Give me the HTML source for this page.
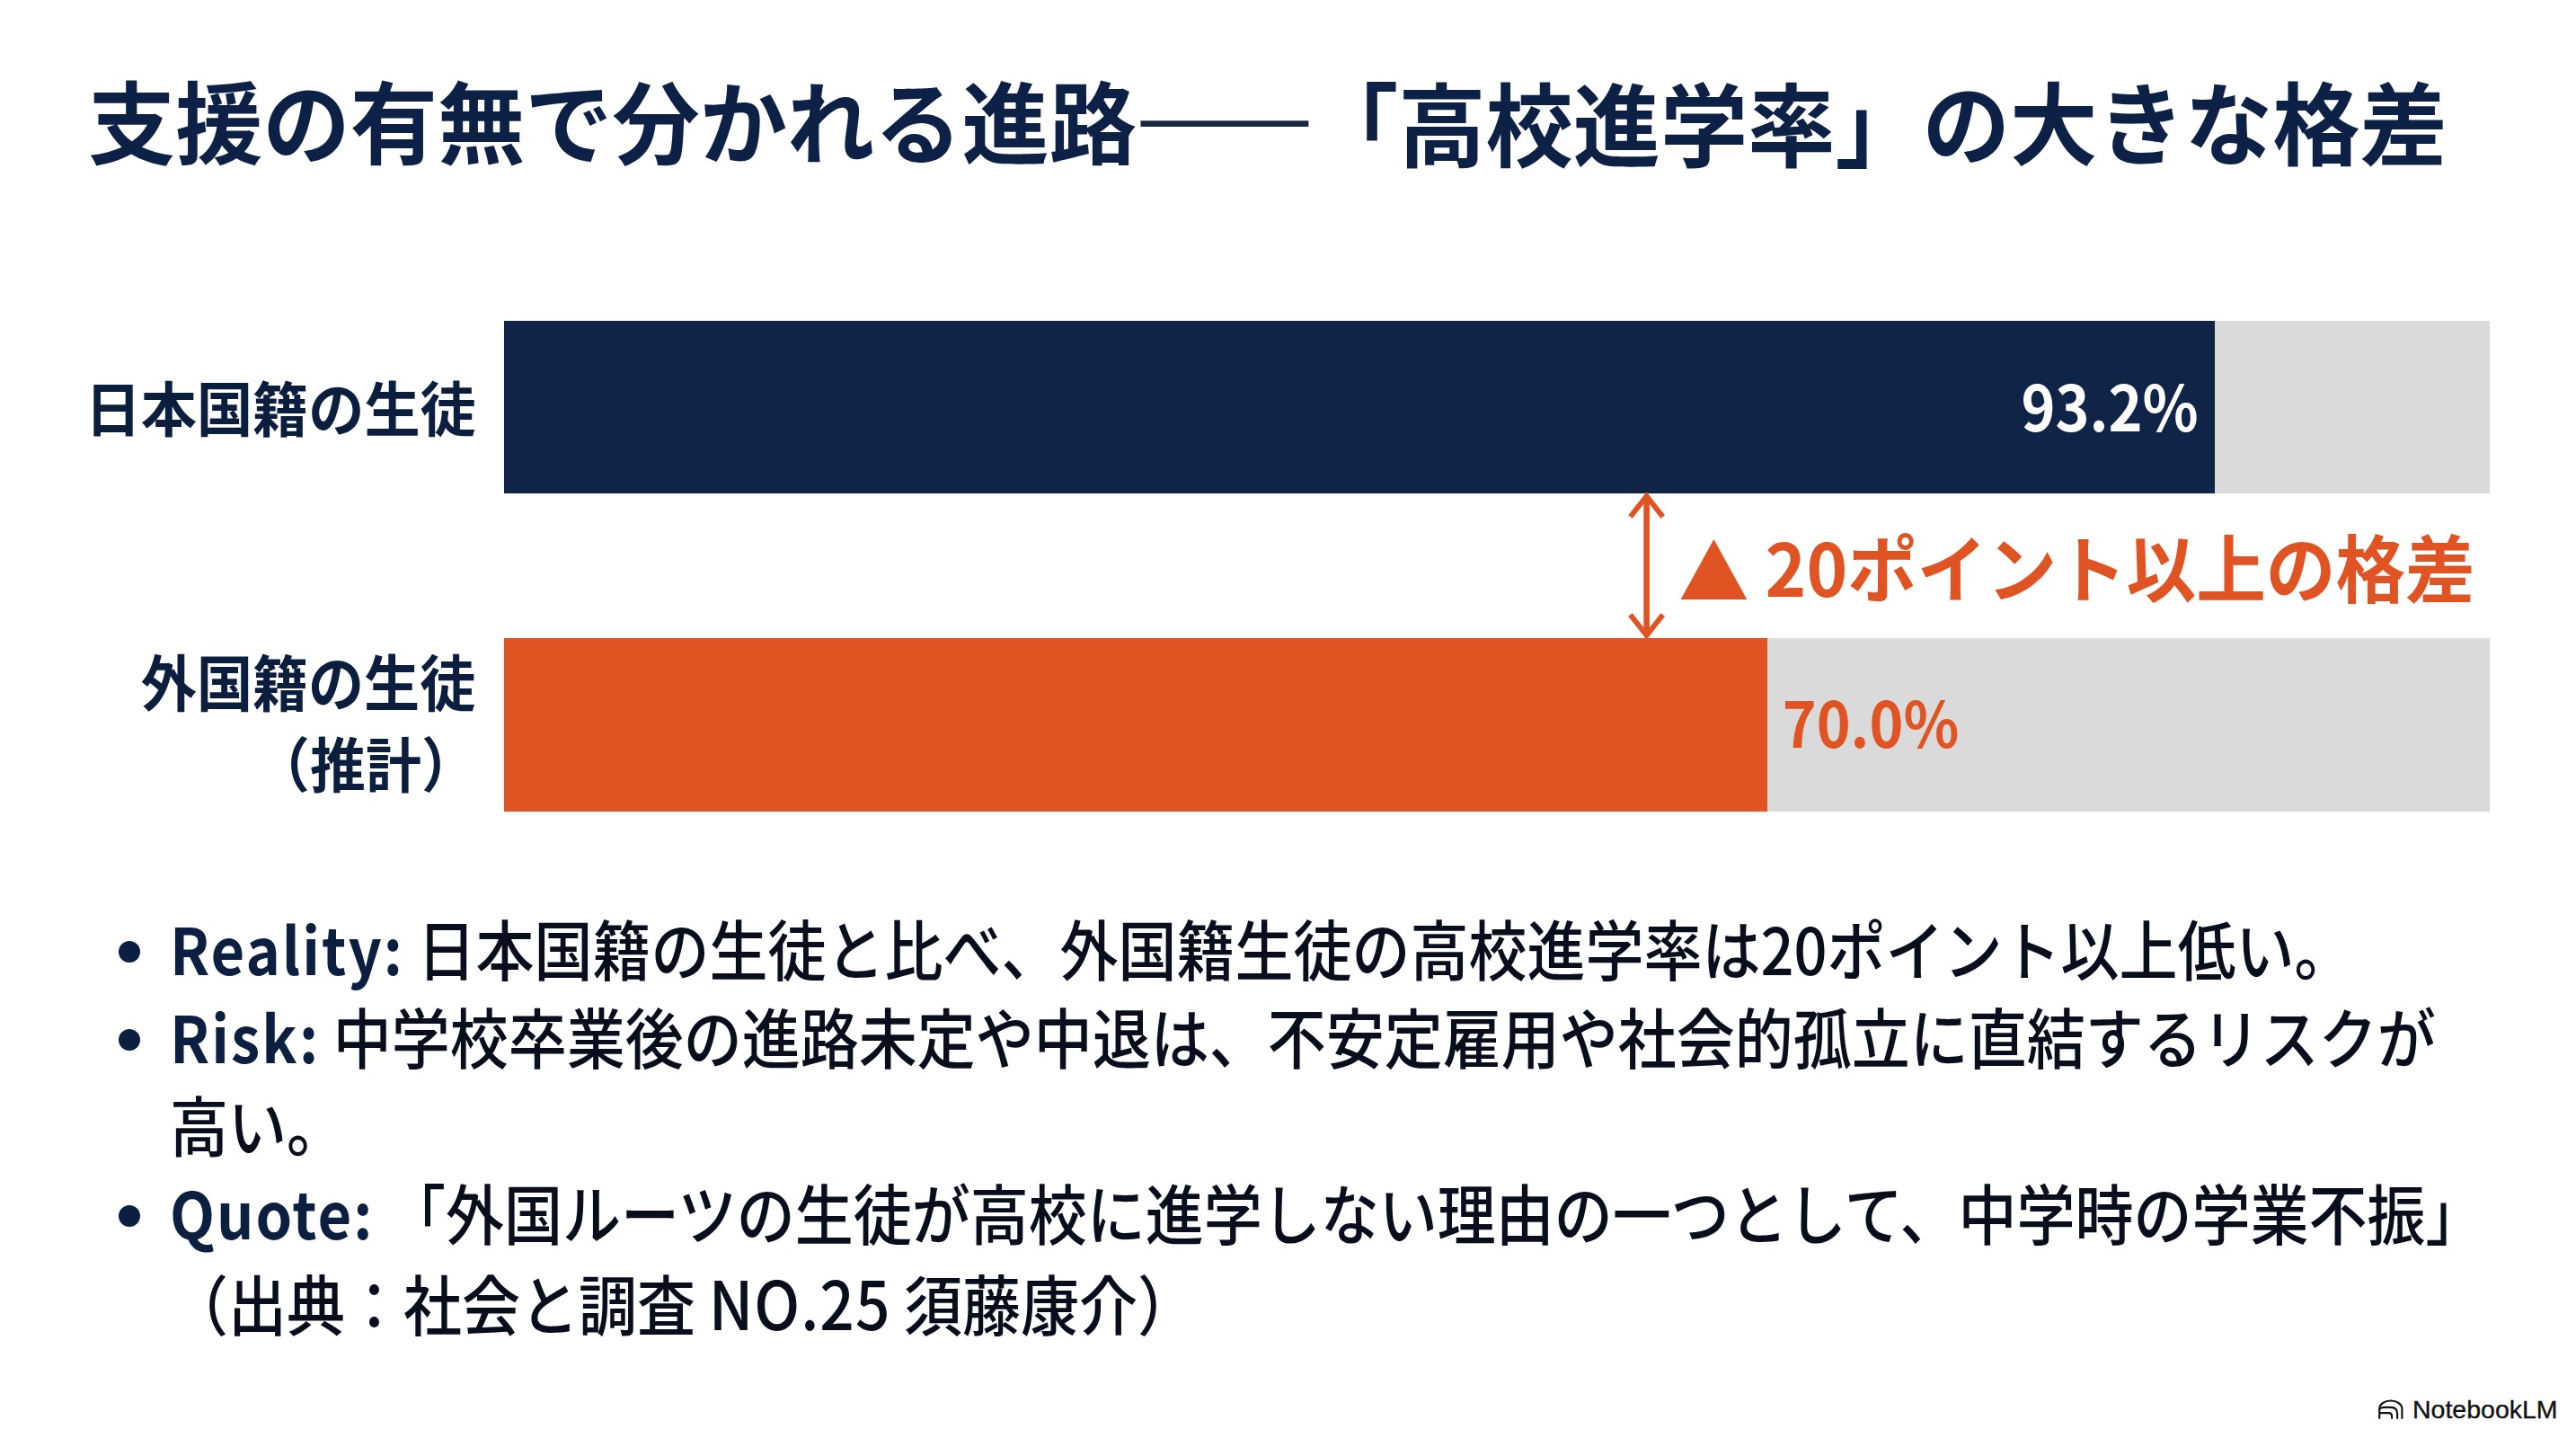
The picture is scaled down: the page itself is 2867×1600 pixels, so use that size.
<!DOCTYPE html>
<html lang="ja">
<head>
<meta charset="utf-8">
<title>支援の有無で分かれる進路——「高校進学率」の大きな格差</title>
<style>
html,body{margin:0;padding:0;background:#ffffff;}
body{width:2867px;height:1600px;position:relative;overflow:hidden;
  font-family:"Noto Sans CJK JP","Liberation Sans",sans-serif;}
.abs{position:absolute;white-space:nowrap;line-height:1;transform-origin:0 0;}
#title{margin:0;font-weight:700;}
.t{font-weight:700;color:#0d2147;}
.dash{color:#1a2740;}
.lbl{font-weight:700;color:#0c1e3e;}
#lbl1{left:94.7px;top:417.7px;font-size:62.15px;transform:scaleY(1.067);}
#lbl2a{left:156.8px;top:722.6px;font-size:62.08px;transform:scaleY(1.092);}
#lbl2b{left:283.1px;top:816.4px;font-size:61.94px;transform:scaleY(1.059);}
.track{position:absolute;background:#dadada;}
.bar{position:absolute;}
#pct1{left:2249.4px;top:415.4px;font-size:64.55px;transform:scaleY(1.08);font-weight:700;color:#ffffff;}
#pct2{left:1983.8px;top:767.4px;font-size:64.26px;transform:scaleY(1.085);font-weight:700;color:#e05423;}
#gap{font-weight:700;color:#e05423;}
.line{position:absolute;left:189px;white-space:nowrap;line-height:1;font-size:65px;font-weight:500;color:#090e1c;transform-origin:0 0;transform:scaleY(1.11);}
.line b{font-weight:700;letter-spacing:2px;color:#0c1f40;}
.dot{position:absolute;width:24px;height:24px;border-radius:50%;background:#0c1f40;left:131.5px;}
#nlm{left:2685px;top:1554.2px;font-family:"Liberation Sans",sans-serif;font-size:28.5px;color:#111;-webkit-text-stroke:0.35px #111;}
</style>
</head>
<body>
<h1 id="title">
<span class="abs t" style="left:98.1px;top:82.4px;font-size:97.24px;transform:scaleY(1.024)">支援の有無で分かれる進路</span><span class="abs t dash" style="left:1263.7px;top:91px;font-size:116.56px;transform:scaleY(0.629)">——</span><span class="abs t" style="left:1458.9px;top:83px;font-size:97.26px;transform:scaleY(1.044)">「高校進学率」</span><span class="abs t" style="left:2139.7px;top:83px;font-size:97.39px;transform:scaleY(1.025)">の大きな格差</span>
</h1>

<div id="lbl1" class="abs lbl">日本国籍の生徒</div>
<div id="lbl2a" class="abs lbl">外国籍の生徒</div>
<div id="lbl2b" class="abs lbl">（推計）</div>

<div class="track" style="left:561px;top:357px;width:2210px;height:192px;"></div>
<div class="bar" style="left:561px;top:357px;width:1904px;height:192px;background:#0f2447;"></div>
<div id="pct1" class="abs">93.2%</div>

<div class="track" style="left:561px;top:710px;width:2210px;height:193px;"></div>
<div class="bar" style="left:561px;top:710px;width:1406px;height:193px;background:#e05423;"></div>
<div id="pct2" class="abs">70.0%</div>

<svg class="abs" style="left:1800px;top:540px" width="80" height="180" viewBox="1800 540 80 180">
  <g stroke="#e05423" stroke-width="6" fill="none" stroke-linecap="butt" stroke-linejoin="miter">
    <line x1="1832.6" y1="551" x2="1832.6" y2="707" stroke-width="6.6"/>
    <polyline points="1814.5,575 1832.6,552 1850.7,575"/>
    <polyline points="1814.5,684 1832.6,707 1850.7,684"/>
  </g>
</svg>
<div id="gap"><span class="abs" style="left:1868.3px;top:590.5px;font-size:78.4px;transform:scaleY(1.052)">▲</span><span class="abs" style="left:1964.6px;top:589.1px;font-size:77.63px;transform:scaleY(1.047)">20ポイント以上の格差</span></div>

<div class="dot" style="top:1047px"></div>
<div class="line" style="top:1018px"><b>Reality:</b> 日本国籍の生徒と比べ、外国籍生徒の高校進学率は20ポイント以上低い。</div>
<div class="dot" style="top:1144.6px"></div>
<div class="line" style="top:1116px"><b>Risk:</b> 中学校卒業後の進路未定や中退は、不安定雇用や社会的孤立に直結するリスクが</div>
<div class="line" style="top:1214px">高い。</div>
<div class="dot" style="top:1340.5px"></div>
<div class="line" style="top:1312px"><b>Quote:</b> 「外国ルーツの生徒が高校に進学しない理由の一つとして、中学時の学業不振」</div>
<div class="line" style="top:1410px">（出典：社会と調査 <span style="font-size:1.04em;letter-spacing:1px">NO.25</span> 須藤康介）</div>

<svg class="abs" style="left:2640px;top:1550px" width="45" height="35" viewBox="0 0 45 35">
  <g fill="none" stroke="#111" stroke-width="2.1">
    <path d="M8.2 28.8 V17.7 A12.6 9.2 0 0 1 33.4 17.7 V28.8"/>
    <path d="M8.6 18 Q9.5 15.9 14 15.9 H21 Q28.1 15.9 28.1 23 V28.8"/>
    <path d="M9 22.1 H18.3 Q22.1 22.1 22.1 25.8 V28.8"/>
  </g>
</svg>
<div id="nlm" class="abs">NotebookLM</div>
</body>
</html>
